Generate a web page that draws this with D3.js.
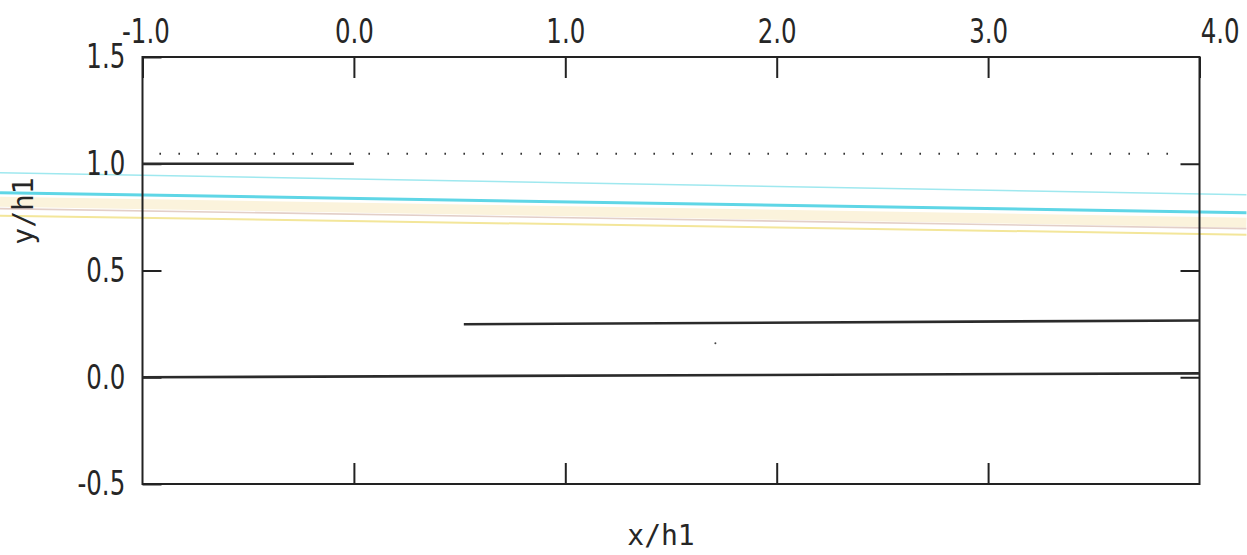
<!DOCTYPE html>
<html>
<head>
<meta charset="utf-8">
<script src="https://cdn.jsdelivr.net/npm/d3@7"></script>
<style>
  html, body { margin: 0; padding: 0; background: #ffffff; }
  svg { display: block; }
  .tick text { font-family: "DejaVu Sans", sans-serif; font-size: 34px; fill: #262626; }
  .title { font-family: "DejaVu Sans Mono", monospace; font-size: 28px; fill: #262626; }
</style>
</head>
<body>
<script>
// ---- data ----
const xTickValues = [-1, 0, 1, 2, 3, 4];
const xTickLabels = ["-1.0", "0.0", "1.0", "2.0", "3.0", "4.0"];
const yTickValues = [-0.5, 0, 0.5, 1, 1.5];
const yTickLabels = ["-0.5", "0.0", "0.5", "1.0", "1.5"];

const stepX = [-1.0, 0.0];
const stepY = [1.0, 1.0];
const upperX = [0.52, 4.0];
const upperY = [0.248, 0.266];
const baseX = [-1.0, 4.0];
const baseY = [0.0, 0.018];
const dottedX = [-0.92, 3.9];
const dottedY = [1.047, 1.047];
const pointX = [1.71];
const pointY = [0.159];

// faint coloured lines crossing the whole picture
const stripeX = [-1.674, 4.222];
const beigeY = [0.822, 0.724];
const cyanThinY = [0.958, 0.855];
const cyanThickY = [0.864, 0.771];
const pinkY = [0.790, 0.696];
const yellowY = [0.757, 0.668];

// ---- layout ----
const W = 1247, H = 555;
const svg = d3.select("body").append("svg").attr("width", W).attr("height", H);

const x = d3.scaleLinear().domain([-1, 4]).range([142.5, 1199.5]);
const y = d3.scaleLinear().domain([-0.5, 1.5]).range([484, 57]);

const line = d3.line().x(d => x(d[0])).y(d => y(d[1]));
const zip = (a, b) => a.map((v, i) => [v, b[i]]);

// coloured stripes (behind everything)
const stripes = [
  { ys: beigeY, color: "#fbf3dc", w: 10 },
  { ys: cyanThinY, color: "#9fe8ef", w: 1.5 },
  { ys: cyanThickY, color: "#5fd6e6", w: 3 },
  { ys: pinkY, color: "#e3cfc8", w: 1.6 },
  { ys: yellowY, color: "#f3e69a", w: 2 }
];
stripes.forEach(s => {
  svg.append("path").datum(zip(stripeX, s.ys))
    .attr("d", line).attr("fill", "none")
    .attr("stroke", s.color).attr("stroke-width", s.w);
});

// frame
svg.append("rect")
  .attr("x", x(-1)).attr("y", y(1.5))
  .attr("width", x(4) - x(-1)).attr("height", y(-0.5) - y(1.5))
  .attr("fill", "none").attr("stroke", "#222").attr("stroke-width", 2);

// axes
const scaleText = sel => sel.selectAll(".tick text").attr("transform", "scale(0.72,1)");

const topAxis = d3.axisTop(x).tickValues(xTickValues)
  .tickFormat((d, i) => xTickLabels[i]).tickSizeInner(-21).tickSizeOuter(0).tickPadding(14);
const gTop = svg.append("g").attr("transform", `translate(0,${y(1.5)})`).call(topAxis);
gTop.select(".domain").remove();
scaleText(gTop);
gTop.selectAll(".tick text").filter(d => d === 4).attr("dx", 28);
gTop.selectAll(".tick text").filter(d => d === -1).attr("dx", 4);

const botAxis = d3.axisBottom(x).tickValues(xTickValues.slice(1, -1))
  .tickFormat("").tickSizeInner(-21).tickSizeOuter(0);
const gBot = svg.append("g").attr("transform", `translate(0,${y(-0.5)})`).call(botAxis);
gBot.select(".domain").remove();

const leftAxis = d3.axisLeft(y).tickValues(yTickValues)
  .tickFormat((d, i) => yTickLabels[i]).tickSizeInner(-19).tickSizeOuter(0).tickPadding(24);
const gLeft = svg.append("g").attr("transform", `translate(${x(-1)},0)`).call(leftAxis);
gLeft.select(".domain").remove();
scaleText(gLeft);

const rightAxis = d3.axisRight(y).tickValues(yTickValues.slice(1, -1))
  .tickFormat("").tickSizeInner(-19).tickSizeOuter(0);
const gRight = svg.append("g").attr("transform", `translate(${x(4)},0)`).call(rightAxis);
gRight.select(".domain").remove();

svg.selectAll(".tick line").attr("stroke", "#222").attr("stroke-width", 2);

// data lines
[[stepX, stepY], [upperX, upperY], [baseX, baseY]].forEach(([xs, ys]) => {
  svg.append("path").datum(zip(xs, ys))
    .attr("d", line).attr("fill", "none")
    .attr("stroke", "#2b2b2b").attr("stroke-width", 2.6);
});

svg.append("path").datum(zip(dottedX, dottedY))
  .attr("d", line).attr("fill", "none")
  .attr("stroke", "#333").attr("stroke-width", 2)
  .attr("stroke-dasharray", "1.6,17.4");

svg.selectAll("circle.pt").data(zip(pointX, pointY)).enter().append("circle")
  .attr("class", "pt").attr("cx", d => x(d[0])).attr("cy", d => y(d[1]))
  .attr("r", 1).attr("fill", "#444");

// titles
svg.append("text").attr("class", "title")
  .attr("x", 661).attr("y", 545).attr("text-anchor", "middle").text("x/h1");
svg.append("text").attr("class", "title")
  .attr("transform", "translate(33,211) rotate(-90)")
  .attr("text-anchor", "middle").text("y/h1");
</script>
</body>
</html>
